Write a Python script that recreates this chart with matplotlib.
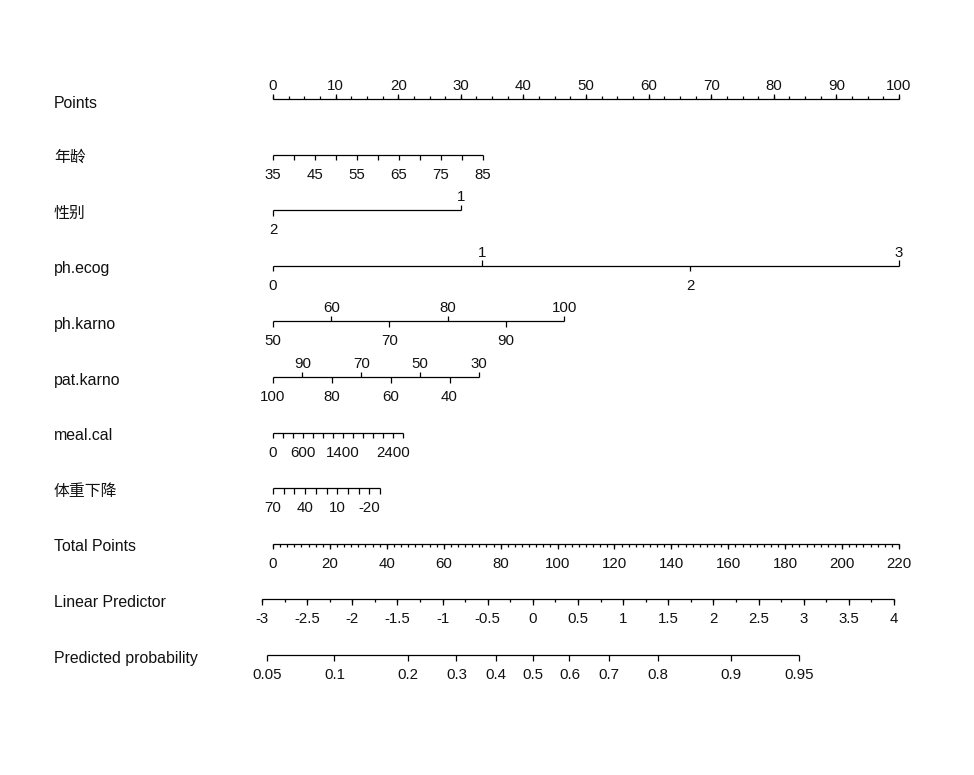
import numpy as np
import matplotlib
matplotlib.use("Agg")
import matplotlib.pyplot as plt

plt.rcParams['font.family'] = ['Liberation Sans', 'Noto Sans CJK SC', 'DejaVu Sans']

# row names, top to bottom
row_names = ['Points', '年龄', '性别', 'ph.ecog', 'ph.karno', 'pat.karno',
             'meal.cal', '体重下降', 'Total Points', 'Linear Predictor',
             'Predicted probability']

# points scale
points_major = [0, 10, 20, 30, 40, 50, 60, 70, 80, 90, 100]
points_step_minor = 2.5

# predictors: tick values, value range -> points range, labels, label side
age_vals = [35, 40, 45, 50, 55, 60, 65, 70, 75, 80, 85]
age_labels = ['35', '', '45', '', '55', '', '65', '', '75', '', '85']
age_map = ([35, 85], [0, 33.5])

sex_vals = [2, 1]
sex_labels = ['2', '1']
sex_map = ([2, 1], [0, 30])
sex_side = ['down', 'up']

ecog_vals = [0, 1, 2, 3]
ecog_labels = ['0', '1', '2', '3']
ecog_map = ([0, 3], [0, 100])
ecog_side = ['down', 'up', 'down', 'up']

phk_vals = [50, 60, 70, 80, 90, 100]
phk_labels = ['50', '60', '70', '80', '90', '100']
phk_map = ([50, 100], [0, 46.5])
phk_side = ['down', 'up', 'down', 'up', 'down', 'up']

patk_vals = [100, 90, 80, 70, 60, 50, 40, 30]
patk_labels = ['100', '90', '80', '70', '60', '50', '40', '30']
patk_map = ([30, 100], [32.9, 0])
patk_side = ['down', 'up', 'down', 'up', 'down', 'up', 'down', 'up']

meal_vals = [0, 200, 400, 600, 800, 1000, 1200, 1400, 1600, 1800, 2000,
             2200, 2400, 2600]
meal_labels = ['0', '', '', '600', '', '', '', '1400', '', '', '', '', '2400', '']
meal_map = ([0, 2600], [0, 20.8])

wt_vals = [70, 60, 50, 40, 30, 20, 10, 0, -10, -20, -30]
wt_labels = ['70', '', '', '40', '', '', '10', '', '', '-20', '']
wt_map = ([-30, 70], [17.1, 0])

# total points
total_major = [0, 20, 40, 60, 80, 100, 120, 140, 160, 180, 200, 220]
total_max = 220

# linear predictor
lp_major = [-3, -2.5, -2, -1.5, -1, -0.5, 0, 0.5, 1, 1.5, 2, 2.5, 3, 3.5, 4]
lp_labels = ['-3', '-2.5', '-2', '-1.5', '-1', '-0.5', '0', '0.5', '1', '1.5',
             '2', '2.5', '3', '3.5', '4']
lp_map = ([-3, 4], [-1.76, 99.2])

prob_vals = [0.05, 0.1, 0.2, 0.3, 0.4, 0.5, 0.6, 0.7, 0.8, 0.9, 0.95]
prob_labels = ['0.05', '0.1', '0.2', '0.3', '0.4', '0.5', '0.6', '0.7', '0.8',
               '0.9', '0.95']

# ---- layout (pixels) ----
W, H = 974, 775
x0_px, x100_px = 273, 899
row0_px, row_gap_px = 99, 55.6
px_per_pt = (x100_px - x0_px) / 100.0

fig = plt.figure(figsize=(W / 100, H / 100), dpi=100)
ax = fig.add_axes([0, 0, 1, 1])
ax.set_xlim(-x0_px / px_per_pt, (W - x0_px) / px_per_pt)
ax.set_ylim((H - row0_px) / row_gap_px, -row0_px / row_gap_px)
ax.axis('off')

LW = 0.9
FS = 10.8
FS_ROW = 11.4
TXT = '#111111'
MAJ = 5.5 / row_gap_px
MIN = 3.0 / row_gap_px


def tick(x, row, side, length):
    # y axis is inverted: smaller row value is higher up
    d = length if side == 'down' else -length
    ax.plot([x, x], [row, row + d], color='black', lw=LW, solid_capstyle='butt')


def label(x, row, text, side):
    if not text:
        return
    dy = 13 if side == 'up' else -20
    ax.annotate(text, (x, row), xytext=(0, dy * 0.72), textcoords='offset points',
                ha='center', va='center', fontsize=FS, color=TXT)


def draw_axis(row, xs, labels, sides, minor_xs=None):
    ax.plot([min(xs), max(xs)], [row, row], color='black', lw=LW,
            solid_capstyle='butt')
    for x, lab, s in zip(xs, labels, sides):
        tick(x, row, s, MAJ)
        label(x, row, lab, s)
    if minor_xs is not None:
        s = sides[0]
        for x in minor_xs:
            tick(x, row, s, MIN)


# row labels
for i, name in enumerate(row_names):
    shift = 5 if i == 0 else 3
    ax.text(-(x0_px - 54) / px_per_pt, i + shift / row_gap_px, name,
            ha='left', va='center', fontsize=FS_ROW, color=TXT)

# Points
pts_minor = np.arange(0, 100 + 0.01, points_step_minor)
draw_axis(0, points_major, [str(v) for v in points_major],
          ['up'] * len(points_major), minor_xs=pts_minor)


def pts(vals, m):
    order = np.argsort(m[0])
    return list(np.interp(vals, np.array(m[0])[order], np.array(m[1])[order]))


draw_axis(1, pts(age_vals, age_map), age_labels, ['down'] * len(age_vals))
draw_axis(2, pts(sex_vals, sex_map), sex_labels, sex_side)
draw_axis(3, pts(ecog_vals, ecog_map), ecog_labels, ecog_side)
draw_axis(4, pts(phk_vals, phk_map), phk_labels, phk_side)
draw_axis(5, pts(patk_vals, patk_map), patk_labels, patk_side)
draw_axis(6, pts(meal_vals, meal_map), meal_labels, ['down'] * len(meal_vals))
draw_axis(7, pts(wt_vals, wt_map), wt_labels, ['down'] * len(wt_vals))

# Total points
tot_scale = 100.0 / total_max
tot_minor = np.arange(0, total_max + 0.01, 2.5) * tot_scale
draw_axis(8, [v * tot_scale for v in total_major], [str(v) for v in total_major],
          ['down'] * len(total_major), minor_xs=tot_minor)

# Linear predictor
lp_minor = pts(np.arange(-3, 4.001, 0.25), lp_map)
draw_axis(9, pts(lp_major, lp_map), lp_labels, ['down'] * len(lp_major),
          minor_xs=lp_minor)

# Predicted probability (logit -> linear predictor)
p = np.array(prob_vals)
prob_lp = np.log(p / (1 - p))
draw_axis(10, pts(prob_lp, lp_map), prob_labels, ['down'] * len(prob_vals))

fig.savefig('out.png', dpi=100, facecolor='white')
